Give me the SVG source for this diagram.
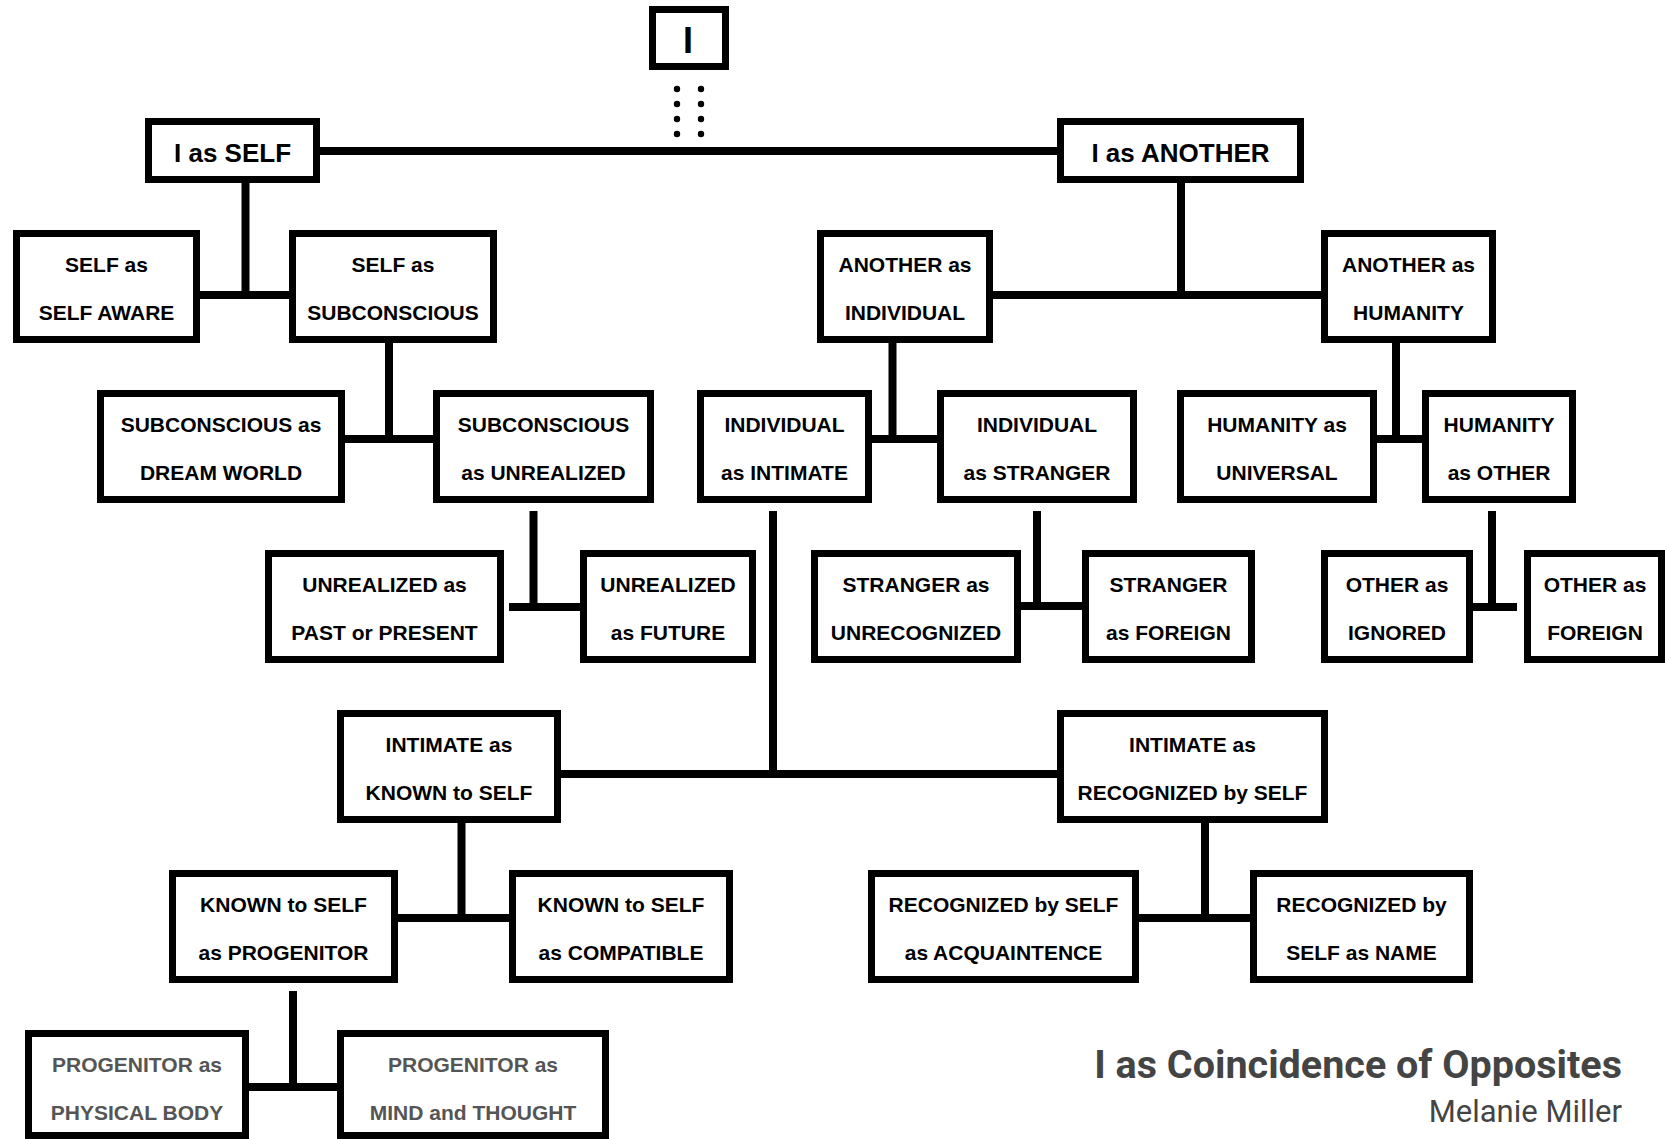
<svg xmlns="http://www.w3.org/2000/svg" width="1665" height="1139" viewBox="0 0 1665 1139">
<style>
.box{fill:#fff;stroke:#000;stroke-width:7}
.t{font-family:"Liberation Sans",Arial,sans-serif;font-weight:bold;font-size:21px;fill:#000;text-anchor:middle}
.g{fill:#555}
.big{font-size:26px}
.conn line{stroke:#000;stroke-width:8}
.dot{fill:#000}
.title{font-family:Roboto,"Liberation Sans",sans-serif;font-weight:bold;font-size:39.5px;fill:#444;text-anchor:end}
.author{font-family:Roboto,"Liberation Sans",sans-serif;font-size:31px;fill:#444;text-anchor:end}
</style>
<rect width="1665" height="1139" fill="#fff"/>
<g id="connectors" class="conn">
<line x1="320" y1="151" x2="1057" y2="151"/>
<line x1="245.5" y1="183" x2="245.5" y2="295"/>
<line x1="200" y1="295" x2="289" y2="295"/>
<line x1="1181" y1="183" x2="1181" y2="295"/>
<line x1="993" y1="295" x2="1321" y2="295"/>
<line x1="389" y1="343" x2="389" y2="439"/>
<line x1="345" y1="439" x2="433" y2="439"/>
<line x1="892.5" y1="343" x2="892.5" y2="439"/>
<line x1="872" y1="439" x2="937" y2="439"/>
<line x1="1396" y1="343" x2="1396" y2="439"/>
<line x1="1377" y1="439" x2="1422" y2="439"/>
<line x1="533.5" y1="511" x2="533.5" y2="607"/>
<line x1="509" y1="607" x2="580" y2="607"/>
<line x1="1037" y1="511" x2="1037" y2="606"/>
<line x1="1013" y1="606" x2="1082" y2="606"/>
<line x1="1492" y1="511" x2="1492" y2="607"/>
<line x1="1473" y1="607" x2="1517" y2="607"/>
<line x1="773" y1="511" x2="773" y2="774"/>
<line x1="561" y1="774" x2="1057" y2="774"/>
<line x1="461.5" y1="823" x2="461.5" y2="918"/>
<line x1="389" y1="918" x2="509" y2="918"/>
<line x1="1205" y1="823" x2="1205" y2="918"/>
<line x1="1139" y1="918" x2="1250" y2="918"/>
<line x1="293" y1="991" x2="293" y2="1087"/>
<line x1="249" y1="1087" x2="337" y2="1087"/>
<circle class="dot" cx="677" cy="89" r="3.2"/><circle class="dot" cx="701" cy="89" r="3.2"/>
<circle class="dot" cx="677" cy="104" r="3.2"/><circle class="dot" cx="701" cy="104" r="3.2"/>
<circle class="dot" cx="677" cy="119" r="3.2"/><circle class="dot" cx="701" cy="119" r="3.2"/>
<circle class="dot" cx="677" cy="134" r="3.2"/><circle class="dot" cx="701" cy="134" r="3.2"/>
</g>
<g id="n-I"><rect class="box" x="652.5" y="9.5" width="73" height="57"/><text class="t" style="font-size:36px" x="688" y="53">I</text></g>
<g id="n-self"><rect class="box" x="148.5" y="121.5" width="168" height="58"/><text class="t big" x="232.5" y="162">I as SELF</text></g>
<g id="n-another"><rect class="box" x="1060.5" y="121.5" width="240" height="58"/><text class="t big" x="1180.5" y="162">I as ANOTHER</text></g>
<g id="n-selfaware"><rect class="box" x="16.5" y="233.5" width="180" height="106"/><text class="t" x="106.5" y="272">SELF as</text><text class="t" x="106.5" y="320">SELF AWARE</text></g>
<g id="n-selfsub"><rect class="box" x="292.5" y="233.5" width="201" height="106"/><text class="t" x="393" y="272">SELF as</text><text class="t" x="393" y="320">SUBCONSCIOUS</text></g>
<g id="n-anotherind"><rect class="box" x="820.5" y="233.5" width="169" height="106"/><text class="t" x="905" y="272">ANOTHER as</text><text class="t" x="905" y="320">INDIVIDUAL</text></g>
<g id="n-anotherhum"><rect class="box" x="1324.5" y="233.5" width="168" height="106"/><text class="t" x="1408.5" y="272">ANOTHER as</text><text class="t" x="1408.5" y="320">HUMANITY</text></g>
<g id="n-subdream"><rect class="box" x="100.5" y="393.5" width="241" height="106"/><text class="t" x="221" y="432">SUBCONSCIOUS as</text><text class="t" x="221" y="480">DREAM WORLD</text></g>
<g id="n-subunreal"><rect class="box" x="436.5" y="393.5" width="214" height="106"/><text class="t" x="543.5" y="432">SUBCONSCIOUS</text><text class="t" x="543.5" y="480">as UNREALIZED</text></g>
<g id="n-indint"><rect class="box" x="700.5" y="393.5" width="168" height="106"/><text class="t" x="784.5" y="432">INDIVIDUAL</text><text class="t" x="784.5" y="480">as INTIMATE</text></g>
<g id="n-indstr"><rect class="box" x="940.5" y="393.5" width="193" height="106"/><text class="t" x="1037" y="432">INDIVIDUAL</text><text class="t" x="1037" y="480">as STRANGER</text></g>
<g id="n-humuni"><rect class="box" x="1180.5" y="393.5" width="193" height="106"/><text class="t" x="1277" y="432">HUMANITY as</text><text class="t" x="1277" y="480">UNIVERSAL</text></g>
<g id="n-humoth"><rect class="box" x="1425.5" y="393.5" width="147" height="106"/><text class="t" x="1499" y="432">HUMANITY</text><text class="t" x="1499" y="480">as OTHER</text></g>
<g id="n-unpast"><rect class="box" x="268.5" y="553.5" width="232" height="106"/><text class="t" x="384.5" y="592">UNREALIZED as</text><text class="t" x="384.5" y="640">PAST or PRESENT</text></g>
<g id="n-unfut"><rect class="box" x="583.5" y="553.5" width="169" height="106"/><text class="t" x="668" y="592">UNREALIZED</text><text class="t" x="668" y="640">as FUTURE</text></g>
<g id="n-strunrec"><rect class="box" x="814.5" y="553.5" width="203" height="106"/><text class="t" x="916" y="592">STRANGER as</text><text class="t" x="916" y="640">UNRECOGNIZED</text></g>
<g id="n-strfor"><rect class="box" x="1085.5" y="553.5" width="166" height="106"/><text class="t" x="1168.5" y="592">STRANGER</text><text class="t" x="1168.5" y="640">as FOREIGN</text></g>
<g id="n-othign"><rect class="box" x="1324.5" y="553.5" width="145" height="106"/><text class="t" x="1397" y="592">OTHER as</text><text class="t" x="1397" y="640">IGNORED</text></g>
<g id="n-othfor"><rect class="box" x="1527.5" y="553.5" width="134" height="106"/><text class="t" x="1595" y="592">OTHER as</text><text class="t" x="1595" y="640">FOREIGN</text></g>
<g id="n-intknown"><rect class="box" x="340.5" y="713.5" width="217" height="106"/><text class="t" x="449" y="752">INTIMATE as</text><text class="t" x="449" y="800">KNOWN to SELF</text></g>
<g id="n-intrec"><rect class="box" x="1060.5" y="713.5" width="264" height="106"/><text class="t" x="1192.5" y="752">INTIMATE as</text><text class="t" x="1192.5" y="800">RECOGNIZED by SELF</text></g>
<g id="n-knprog"><rect class="box" x="172.5" y="873.5" width="222" height="106"/><text class="t" x="283.5" y="912">KNOWN to SELF</text><text class="t" x="283.5" y="960">as PROGENITOR</text></g>
<g id="n-kncomp"><rect class="box" x="512.5" y="873.5" width="217" height="106"/><text class="t" x="621" y="912">KNOWN to SELF</text><text class="t" x="621" y="960">as COMPATIBLE</text></g>
<g id="n-recacq"><rect class="box" x="871.5" y="873.5" width="264" height="106"/><text class="t" x="1003.5" y="912">RECOGNIZED by SELF</text><text class="t" x="1003.5" y="960">as ACQUAINTENCE</text></g>
<g id="n-recname"><rect class="box" x="1253.5" y="873.5" width="216" height="106"/><text class="t" x="1361.5" y="912">RECOGNIZED by</text><text class="t" x="1361.5" y="960">SELF as NAME</text></g>
<g id="n-progbody"><rect class="box" x="28.5" y="1033.5" width="217" height="102"/><text class="t g" x="137" y="1072">PROGENITOR as</text><text class="t g" x="137" y="1120">PHYSICAL BODY</text></g>
<g id="n-progmind"><rect class="box" x="340.5" y="1033.5" width="265" height="102"/><text class="t g" x="473" y="1072">PROGENITOR as</text><text class="t g" x="473" y="1120">MIND and THOUGHT</text></g>
<text class="title" x="1622" y="1078">I as Coincidence of Opposites</text>
<text class="author" x="1622" y="1122">Melanie Miller</text>
</svg>
